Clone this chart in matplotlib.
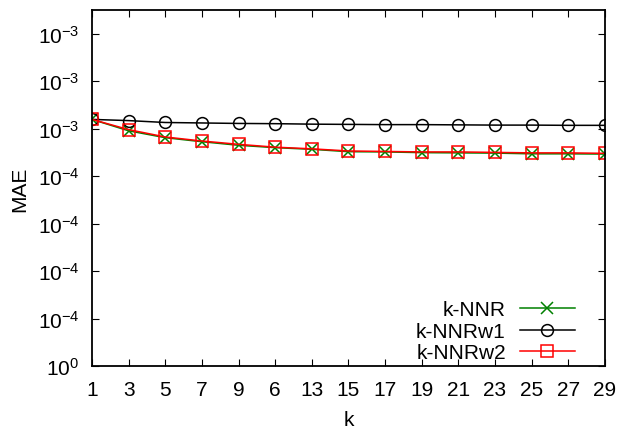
import matplotlib
matplotlib.use("Agg")
import matplotlib.pyplot as plt

plt.rcParams['font.family'] = ['Liberation Sans', 'DejaVu Sans']
plt.rcParams['mathtext.fontset'] = 'custom'
plt.rcParams['mathtext.rm'] = 'Liberation Sans'
plt.rcParams['mathtext.it'] = 'Liberation Sans'

k = [1, 3, 5, 7, 9, 11, 13, 15, 17, 19, 21, 23, 25, 27, 29]
knnr = [1.039e-3, 0.991e-3, 0.962e-3, 0.945e-3, 0.930e-3, 0.920e-3, 0.913e-3, 0.903e-3,
        0.902e-3, 0.899e-3, 0.898e-3, 0.897e-3, 0.894e-3, 0.894e-3, 0.893e-3]
knnrw1 = [1.039e-3, 1.034e-3, 1.026e-3, 1.024e-3, 1.022e-3, 1.021e-3, 1.019e-3, 1.018e-3,
          1.017e-3, 1.017e-3, 1.016e-3, 1.015e-3, 1.015e-3, 1.014e-3, 1.014e-3]
knnrw2 = [1.039e-3, 0.996e-3, 0.965e-3, 0.948e-3, 0.934e-3, 0.922e-3, 0.915e-3, 0.906e-3,
          0.904e-3, 0.902e-3, 0.902e-3, 0.900e-3, 0.898e-3, 0.898e-3, 0.896e-3]

xtick_labels = ['1', '3', '5', '7', '9', '6', '13', '15', '17', '19', '21', '23', '25', '27', '29']
ytick_vals = [0, 2e-4, 4e-4, 6e-4, 8e-4, 1.0e-3, 1.2e-3, 1.4e-3]
ytick_labels = [r'$10^{0}$', r'$10^{-4}$', r'$10^{-4}$', r'$10^{-4}$',
                r'$10^{-4}$', r'$10^{-3}$', r'$10^{-3}$', r'$10^{-3}$']

fig = plt.figure(figsize=(6.17, 4.31), dpi=100)
ax = fig.add_axes([0.149, 0.1485, 0.8315, 0.826])

ax.plot(k, knnr, color='#008000', lw=1.1, marker='x', ms=8.5, mew=1.1, label='k-NNR')
ax.plot(k, knnrw1, color='black', lw=1.1, marker='o', ms=8.5, mew=1.1, mfc='none', label='k-NNRw1')
ax.plot(k, knnrw2, color='#ff0000', lw=1.1, marker='s', ms=8.5, mew=1.1, mfc='none', label='k-NNRw2')

ax.set_xlim(1, 29)
ax.set_ylim(0, 1.5e-3)
ax.set_xticks(k)
ax.set_xticklabels(xtick_labels)
ax.set_yticks(ytick_vals)
ax.set_yticklabels(ytick_labels)
ax.tick_params(direction='in', length=5, width=0.8, top=True, right=True, labelsize=15)
ax.tick_params(axis='x', pad=10)
ax.tick_params(axis='y', pad=9)
for s in ax.spines.values():
    s.set_linewidth(1.3)

ax.set_xlabel('k', fontsize=15, labelpad=8)
ax.set_ylabel('MAE', fontsize=15, labelpad=6)

leg = ax.legend(loc='lower right', frameon=False, markerfirst=False, fontsize=15,
                handlelength=2.6, handletextpad=0.7, labelspacing=0.12,
                borderaxespad=0.2, bbox_to_anchor=(0.965, -0.025))
for t in leg.get_texts():
    t.set_ha('right')

fig.savefig('out.png', dpi=100)
